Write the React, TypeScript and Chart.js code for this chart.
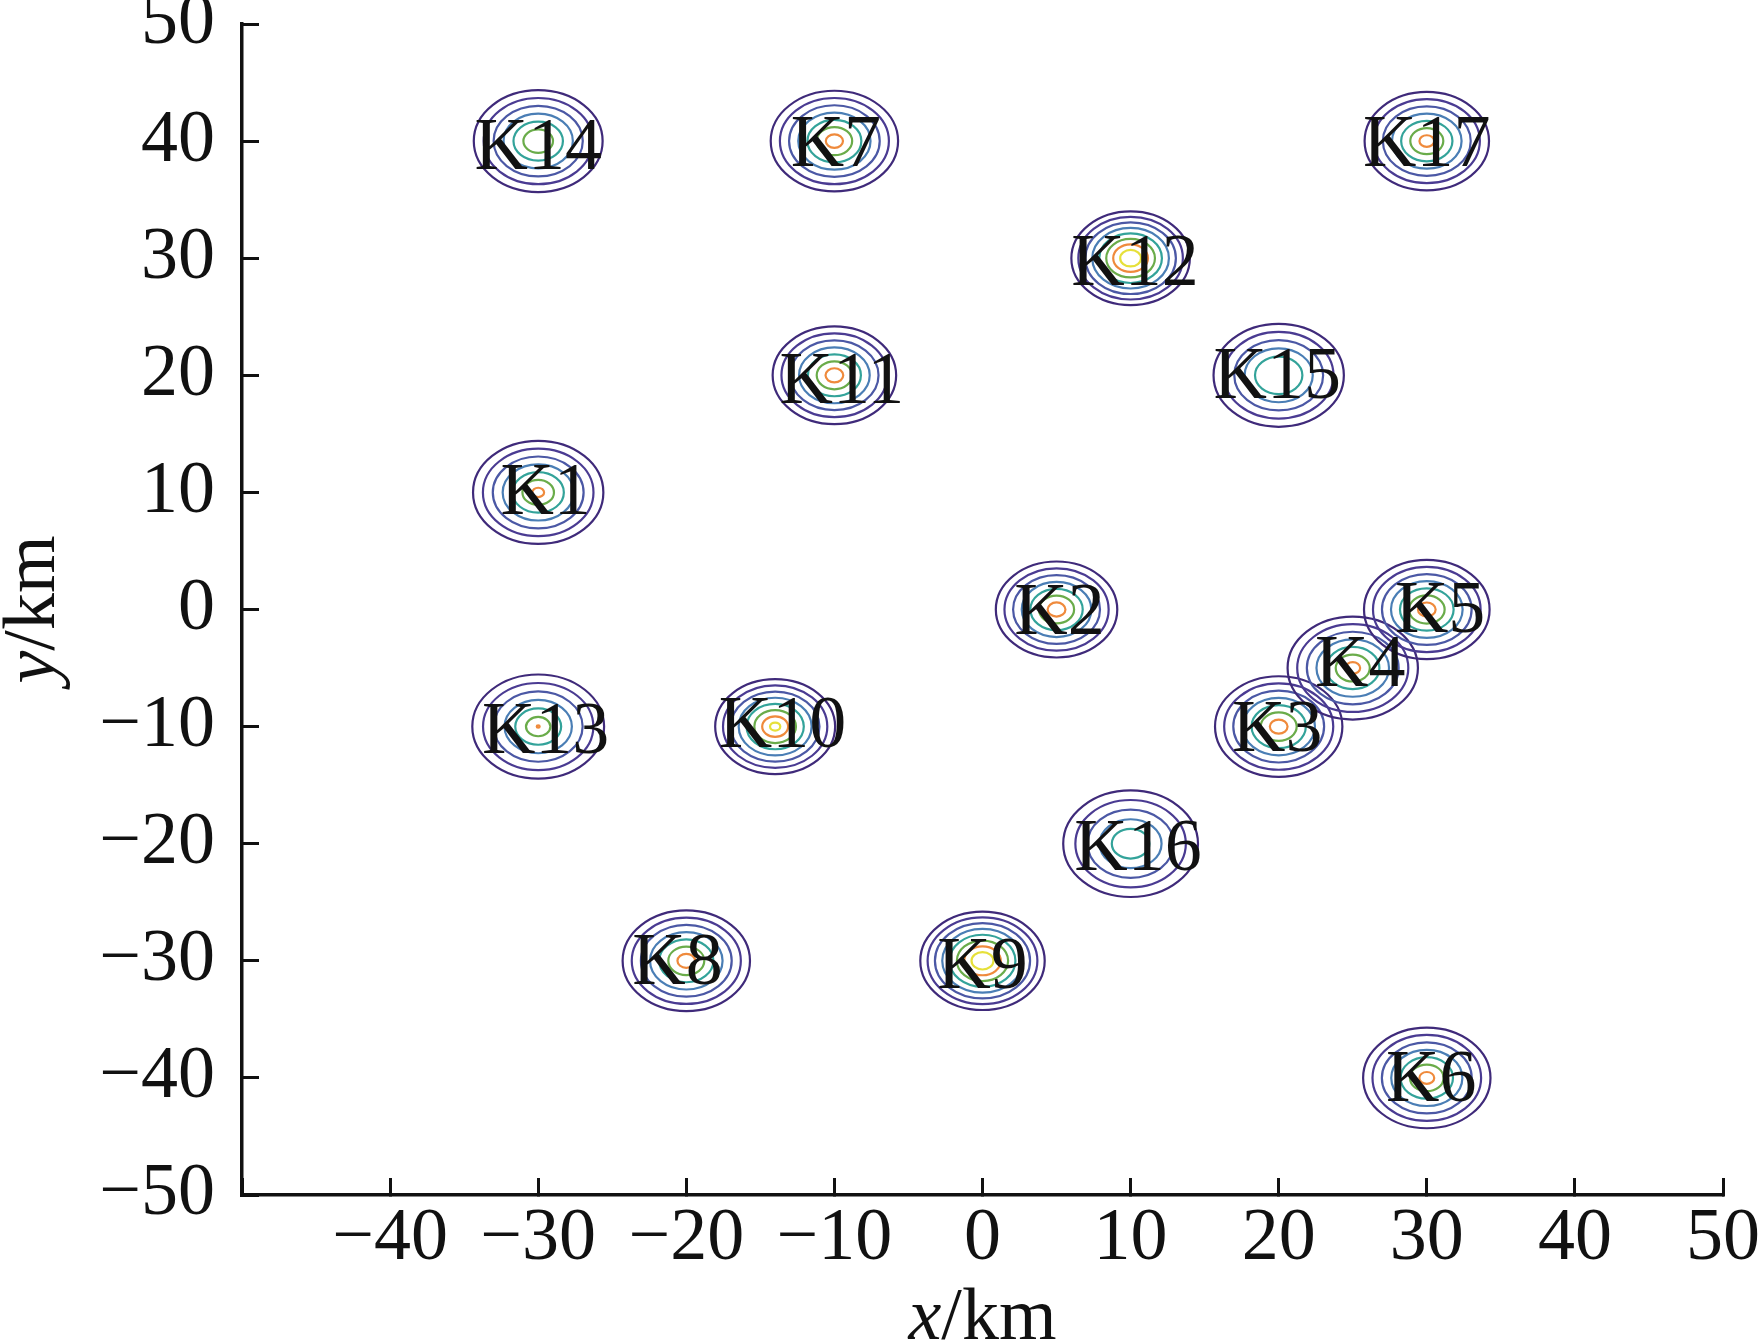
import React, { useEffect, useRef } from 'react';
import { Chart, registerables } from 'chart.js';

Chart.register(...registerables);

const FONT = '"Liberation Serif", "Times New Roman", Times, serif';

// Source names and centres (km)
const NAMES = ['K1', 'K2', 'K3', 'K4', 'K5', 'K6', 'K7', 'K8', 'K9', 'K10', 'K11', 'K12', 'K13', 'K14', 'K15', 'K16', 'K17'];
const CENTER_X = [-30, 5, 20, 25, 30, 30, -10, -20, 0, -14, -10, 10, -30, -30, 20, 10, 30];
const CENTER_Y = [10, 0, -10, -5, 0, -40, 40, -30, -30, -10, 20, 30, -10, 40, 20, -20, 40];

// Contour rings: outer ring radius (km), ring spacing (km), number of rings
const OUTER_R = [4.4, 4.1, 4.3, 4.4, 4.24, 4.3, 4.3, 4.3, 4.2, 4.05, 4.17, 4.0, 4.45, 4.35, 4.4, 4.55, 4.2];
const RING_GAP = [0.667, 0.583, 0.617, 0.65, 0.607, 0.633, 0.62, 0.617, 0.494, 0.529, 0.595, 0.471, 0.725, 0.67, 0.7, 0.82, 0.617];
const RING_COUNT = [7, 7, 7, 7, 7, 7, 7, 7, 8, 8, 7, 8, 7, 6, 5, 5, 7];

// Label anchor points (km)
const LABEL_X = [-29.5, 5.2, 19.9, 25.5, 30.9, 30.3, -9.9, -20.6, 0, -13.5, -9.5, 10.3, -29.5, -30.0, 19.9, 10.5, 30.0];
const LABEL_Y = [10.2, 0, -10, -4.5, 0.1, -39.9, 39.9, -29.9, -30.3, -9.7, 19.7, 29.8, -10.2, 39.7, 20.1, -20.2, 39.9];

// Contour level colours, outermost first
const LEVEL_COLORS = ['#3f2a7a', '#4a3b92', '#4b58a5', '#4a7eb5', '#33a39a', '#6aac4a', '#ef8a3c', '#e6e03a'];

// Axis ranges
const X_MIN = -50, X_MAX = 50, Y_MIN = -50, Y_MAX = 50, STEP = 10;

const fmt = (v: number) => (v < 0 ? '\u2212' + Math.abs(v) : String(v));

const contourPlugin = {
  id: 'contours',
  afterDatasetsDraw(chart: any) {
    const { ctx } = chart;
    const xs = chart.scales.x;
    const ys = chart.scales.y;
    ctx.save();
    ctx.lineWidth = 2.2;
    for (let i = 0; i < NAMES.length; i++) {
      const cx = xs.getPixelForValue(CENTER_X[i]);
      const cy = ys.getPixelForValue(CENTER_Y[i]);
      for (let k = 0; k < RING_COUNT[i]; k++) {
        const r = Math.max(OUTER_R[i] - k * RING_GAP[i], 0.08);
        const rx = Math.abs(xs.getPixelForValue(CENTER_X[i] + r) - cx);
        const ry = Math.abs(ys.getPixelForValue(CENTER_Y[i] + r) - cy);
        ctx.beginPath();
        ctx.strokeStyle = LEVEL_COLORS[k];
        ctx.ellipse(cx, cy, rx, ry, 0, 0, Math.PI * 2);
        ctx.stroke();
      }
    }
    ctx.fillStyle = '#111';
    ctx.font = `74px ${FONT}`;
    ctx.textAlign = 'center';
    ctx.textBaseline = 'alphabetic';
    for (let i = 0; i < NAMES.length; i++) {
      const px = xs.getPixelForValue(LABEL_X[i]);
      const py = ys.getPixelForValue(LABEL_Y[i]);
      ctx.fillText(NAMES[i], px, py + 24);
    }
    ctx.restore();
  },
  afterDraw(chart: any) {
    const { ctx, chartArea } = chart;
    ctx.save();
    ctx.fillStyle = '#111';
    ctx.textBaseline = 'alphabetic';
    ctx.textAlign = 'left';
    const drawTitle = (italicPart: string, rest: string) => {
      ctx.font = `italic 74px ${FONT}`;
      const w1 = ctx.measureText(italicPart).width;
      ctx.font = `74px ${FONT}`;
      const w2 = ctx.measureText(rest).width;
      const total = w1 + w2;
      ctx.font = `italic 74px ${FONT}`;
      ctx.fillText(italicPart, -total / 2, 0);
      ctx.font = `74px ${FONT}`;
      ctx.fillText(rest, -total / 2 + w1, 0);
    };
    // x title
    ctx.save();
    ctx.translate((chartArea.left + chartArea.right) / 2, 1339);
    drawTitle('x', '/km');
    ctx.restore();
    // y title
    ctx.save();
    ctx.translate(54, (chartArea.top + chartArea.bottom) / 2);
    ctx.rotate(-Math.PI / 2);
    drawTitle('y', '/km');
    ctx.restore();
    ctx.restore();
  },
};

export default function App() {
  const ref = useRef<HTMLCanvasElement | null>(null);

  useEffect(() => {
    document.body.style.margin = '0';
    const canvas = ref.current;
    if (!canvas) return;
    const chart = new Chart(canvas, {
      type: 'scatter',
      data: {
        datasets: [
          {
            label: 'centres',
            data: CENTER_X.map((x, i) => ({ x, y: CENTER_Y[i] })),
            pointRadius: 0,
            pointHoverRadius: 0,
            showLine: false,
          },
        ],
      },
      options: {
        animation: false,
        responsive: false,
        maintainAspectRatio: false,
        devicePixelRatio: 1,
        layout: { padding: { left: 0, right: 37, top: 24, bottom: 0 } },
        plugins: { legend: { display: false }, tooltip: { enabled: false } },
        events: [],
        scales: {
          x: {
            type: 'linear',
            position: 'bottom',
            min: X_MIN,
            max: X_MAX,
            border: { display: true, color: '#111', width: 3.5 },
            grid: {
              display: true,
              drawOnChartArea: false,
              drawTicks: true,
              tickLength: -17,
              tickWidth: 3,
              tickColor: '#111',
            },
            ticks: {
              stepSize: STEP,
              autoSkip: false,
              maxRotation: 0,
              padding: 17,
              color: '#111',
              font: { family: FONT, size: 74 },
              callback: (v: any) => (Number(v) === X_MIN ? '' : fmt(Number(v))),
            },
            afterFit: (s: any) => {
              s.height = 146;
              s.paddingLeft = 0;
              s.paddingRight = 0;
              s.paddingTop = 0;
              s.paddingBottom = 0;
            },
          },
          y: {
            type: 'linear',
            position: 'left',
            min: Y_MIN,
            max: Y_MAX,
            border: { display: true, color: '#111', width: 3.5 },
            grid: {
              display: true,
              drawOnChartArea: false,
              drawTicks: true,
              tickLength: -17,
              tickWidth: 3,
              tickColor: '#111',
            },
            ticks: {
              stepSize: STEP,
              autoSkip: false,
              padding: 44,
              color: '#111',
              font: { family: FONT, size: 74 },
              callback: (v: any) => fmt(Number(v)),
            },
            afterFit: (s: any) => {
              s.width = 242;
              s.paddingLeft = 0;
              s.paddingRight = 0;
              s.paddingTop = 0;
              s.paddingBottom = 0;
            },
          },
        },
      },
      plugins: [contourPlugin],
    } as any);
    return () => chart.destroy();
  }, []);

  return (
    <div style={{ width: 1760, height: 1341, background: '#fff' }}>
      <canvas ref={ref} width={1760} height={1341} style={{ width: 1760, height: 1341, display: 'block' }} />
    </div>
  );
}
